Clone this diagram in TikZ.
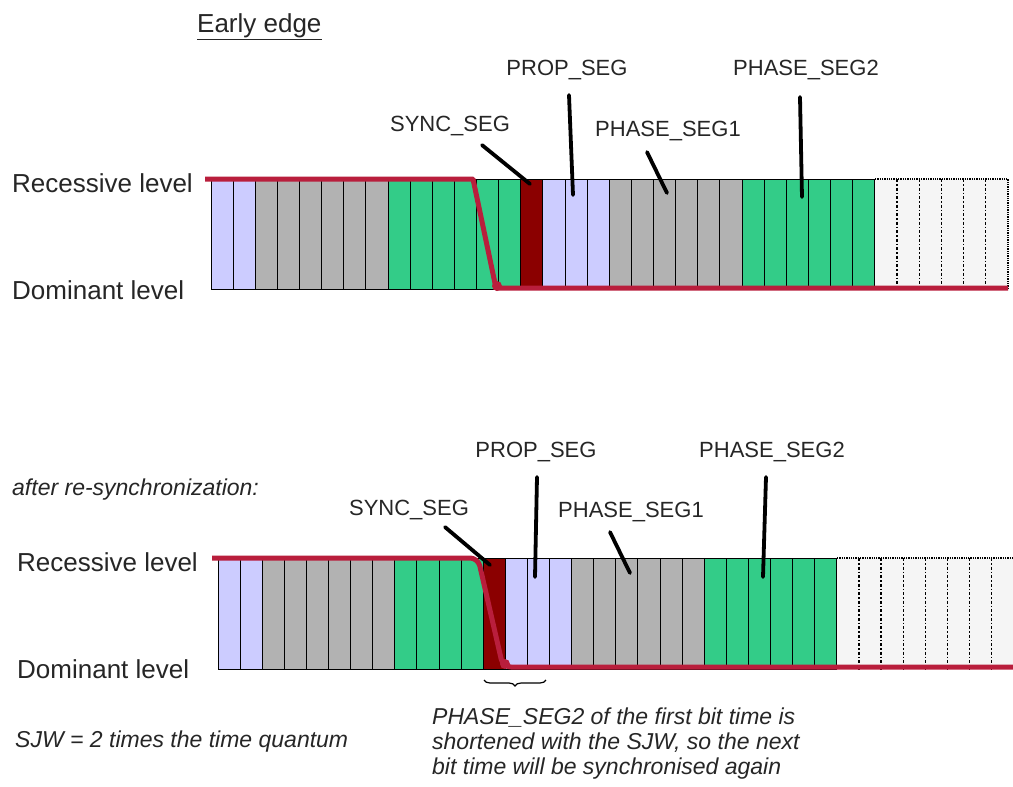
\documentclass[tikz,border=0pt]{standalone}
\usepackage{fontspec}
\setmainfont{Liberation Sans}
\usepackage{tikz}
\usetikzlibrary{decorations.pathreplacing}
\definecolor{qlav}{RGB}{204,204,255}
\definecolor{qgray}{RGB}{178,178,178}
\definecolor{qgreen}{RGB}{51,204,136}
\definecolor{qsync}{RGB}{139,0,0}
\definecolor{sigred}{RGB}{185,30,60}

\begin{document}
\begin{tikzpicture}[x=1pt,y=-1pt,
    cell/.style={draw=black,line width=1pt},
    spare/.style={draw=black,line width=1.5pt,dash dot},
    signal/.style={sigred,line width=5pt,line join=round},
    pointer/.style={line width=3.8pt,line cap=round},
    lvl/.style={font=\fontsize{26}{30}\selectfont,text=black!85,inner sep=0pt},
    seg/.style={font=\fontsize{22}{26}\selectfont,text=black!85,inner sep=0pt},
    note/.style={font=\fontsize{23}{25}\selectfont\itshape,text=black!85,
      inner sep=0pt,align=left}
  ]
  \fill[white] (0,0) rectangle (1013,787);
  \useasboundingbox (0,0) rectangle (1013,787);

  % early edge: time quanta
  \foreach \c [count=\i from 0] in {qlav,qlav,qgray,qgray,qgray,qgray,qgray,qgray,
      qgreen,qgreen,qgreen,qgreen,qgreen,qgreen,qsync,qlav,qlav,qlav,
      qgray,qgray,qgray,qgray,qgray,qgray,qgreen,qgreen,qgreen,qgreen,qgreen,qgreen}
    \draw[cell,fill=\c] (211+22.13*\i,179) rectangle ++(22.13,110);
  \fill[black!4] (875,179) rectangle (1008,289);
  \draw[densely dotted,line width=1.3pt] (875,179) -- (1008,179) -- (1008,289);
  \foreach \i in {1,...,5}
    \draw[spare] (875+22.13*\i,179) -- ++(0,110);

  % after re-synchronization: time quanta
  \foreach \c [count=\i from 0] in {qlav,qlav,qgray,qgray,qgray,qgray,qgray,qgray,
      qgreen,qgreen,qgreen,qgreen,qsync,qlav,qlav,qlav,
      qgray,qgray,qgray,qgray,qgray,qgray,qgreen,qgreen,qgreen,qgreen,qgreen,qgreen}
    \draw[cell,fill=\c] (218+22.1*\i,558) rectangle ++(22.1,111);
  \fill[black!4] (837,558) rectangle (1013,669);
  \draw[densely dotted,line width=1.3pt] (837,558) -- (1013,558);
  \foreach \i in {1,...,7}
    \draw[spare] (837+22.1*\i,558) -- ++(0,111);

  % bus signal
  \draw[signal] (205,179) -- (473,179) -- (496,288) -- (1008,288);
  \fill[sigred] (497,286) circle (5);
  \draw[signal,rounded corners=8pt] (212,558) -- (478,558) -- (503,667) -- (1013,667);
  \fill[sigred] (505,664) circle (5);

  % levels
  \node[lvl,anchor=base west] (title) at (197,32) {\underline{Early edge}};
  \node[lvl,anchor=west] (recA) at (12,183) {Recessive level};
  \node[lvl,anchor=west] (domA) at (12,290) {Dominant level};
  \node[lvl,anchor=west] (recB) at (17,562) {Recessive level};
  \node[lvl,anchor=west] (domB) at (17,669) {Dominant level};

  % segment labels, early edge
  \node[seg] (syncA) at (450,126) {SYNC\_SEG};
  \node[seg] (propA) at (567,70) {PROP\_SEG};
  \node[seg] (ph1A) at (668,131) {PHASE\_SEG1};
  \node[seg] (ph2A) at (806,70) {PHASE\_SEG2};
  \coordinate (syncAtip) at (530,184);
  \coordinate (propAtip) at (573,195);
  \coordinate (ph1Atip) at (667,193);
  \coordinate (ph2Atip) at (802,197);
  \draw[pointer] ([xshift=32pt,yshift=-9pt]syncA.south) -- (syncAtip);
  \draw[pointer] ([xshift=2pt,yshift=-15pt]propA.south) -- (propAtip);
  \draw[pointer] ([xshift=-21pt,yshift=-11pt]ph1A.south) -- (ph1Atip);
  \draw[pointer] ([xshift=-6pt,yshift=-17pt]ph2A.south) -- (ph2Atip);

  % segment labels, after re-synchronization
  \node[note,anchor=west] (after) at (12,490) {after re-synchronization:};
  \node[seg] (syncB) at (409,510) {SYNC\_SEG};
  \node[seg] (propB) at (536,452) {PROP\_SEG};
  \node[seg] (ph1B) at (631,512) {PHASE\_SEG1};
  \node[seg] (ph2B) at (772,452) {PHASE\_SEG2};
  \coordinate (syncBtip) at (490,565);
  \coordinate (propBtip) at (535,577);
  \coordinate (ph1Btip) at (630,573);
  \coordinate (ph2Btip) at (763,577);
  \draw[pointer] ([xshift=36pt,yshift=-7pt]syncB.south) -- (syncBtip);
  \draw[pointer] ([xshift=1pt,yshift=-15pt]propB.south) -- (propBtip);
  \draw[pointer] ([xshift=-21pt,yshift=-10pt]ph1B.south) -- (ph1Btip);
  \draw[pointer] ([xshift=-6pt,yshift=-15pt]ph2B.south) -- (ph2Btip);

  % SJW
  \draw[decorate,decoration={brace,mirror,amplitude=6pt},line width=1.2pt]
    (484,680) -- (546,680);
  \node[note,anchor=west] (sjw) at (15,742) {SJW = 2 times the time quantum};
  \node[note,anchor=north west] (sjwnote) at (432,708)
    {PHASE\_SEG2 of the first bit time is\\
     shortened with the SJW, so the next\\
     bit time will be synchronised again};
\end{tikzpicture}
\end{document}
